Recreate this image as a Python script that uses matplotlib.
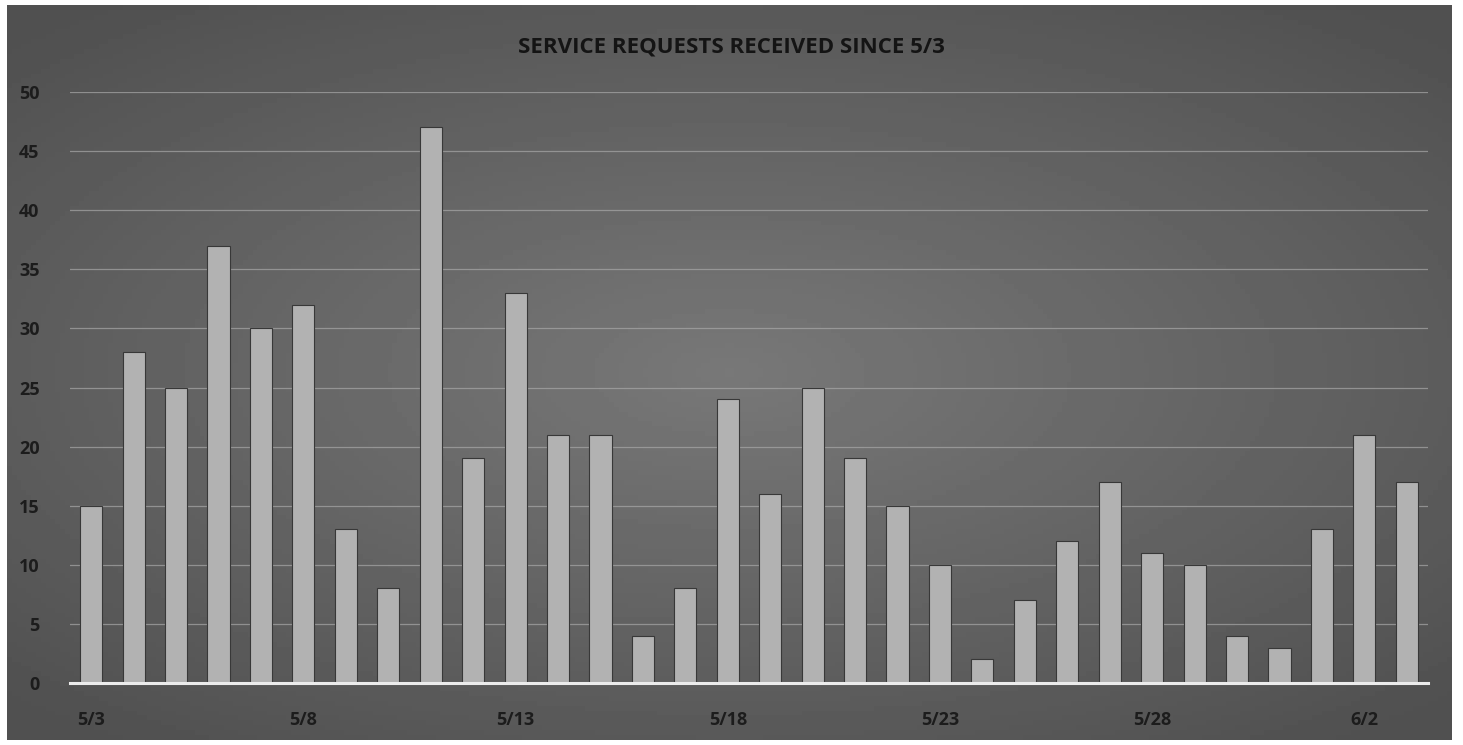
import numpy as np
import matplotlib
matplotlib.use("Agg")
from matplotlib import pyplot as plt

# daily service requests, 5/3 through 6/3
days = ["5/3", "5/4", "5/5", "5/6", "5/7", "5/8", "5/9", "5/10", "5/11", "5/12",
        "5/13", "5/14", "5/15", "5/16", "5/17", "5/18", "5/19", "5/20", "5/21", "5/22",
        "5/23", "5/24", "5/25", "5/26", "5/27", "5/28", "5/29", "5/30", "5/31", "6/1",
        "6/2", "6/3"]
requests = [15, 28, 25, 37, 30, 32, 13, 8, 47, 19,
            33, 21, 21, 4, 8, 24, 16, 25, 19, 15,
            10, 2, 7, 12, 17, 11, 10, 4, 3, 13,
            21, 17]
y_ticks = [0, 5, 10, 15, 20, 25, 30, 35, 40, 45, 50]

plt.rcParams["font.family"] = ["Open Sans", "DejaVu Sans"]

fig = plt.figure(figsize=(14.63, 7.45), dpi=100)
fig.patch.set_facecolor("white")

# gray scanned-looking panel with a soft radial gradient
bg = fig.add_axes([7 / 1463, 5 / 745, 1445 / 1463, 735 / 745])
gx, gy = np.meshgrid(np.linspace(-1, 1, 300), np.linspace(-1, 1, 150))
r = np.sqrt(gx ** 2 + (gy / 0.9) ** 2)
shade = 0.47 - 0.11 * np.clip(r, 0, 1.4)
bg.imshow(shade, cmap="gray", vmin=0, vmax=1, aspect="auto",
          extent=[0, 1, 0, 1])
bg.set_axis_off()

ax = fig.add_axes([70 / 1463, 1 - 683 / 745, 1358 / 1463, (683 - 92) / 745])
ax.patch.set_alpha(0)
x = np.arange(len(days))
ax.bar(x, requests, width=0.52, color="#b2b2b2", edgecolor="#383838",
       linewidth=0.8, zorder=3)
ax.set_xlim(-0.5, len(days) - 0.5)
ax.set_ylim(0, 50)
ax.set_yticks(y_ticks)
ax.grid(axis="y", color="#a8a8a8", linewidth=0.9, alpha=0.7, zorder=0)
for s in ["top", "right", "left"]:
    ax.spines[s].set_visible(False)
ax.spines["bottom"].set_color("#ececec")
ax.spines["bottom"].set_linewidth(2.2)
ax.spines["bottom"].set_zorder(4)
ax.set_xticks(x[::5])
ax.set_xticklabels(days[::5])
ax.tick_params(length=0, colors="#1c1c1c", labelsize=13)
ax.tick_params(axis="x", pad=20)
ax.tick_params(axis="y", pad=22)
for lab in ax.get_xticklabels() + ax.get_yticklabels():
    lab.set_fontweight("bold")

fig.text(0.5, 1 - 47 / 745, "SERVICE REQUESTS RECEIVED SINCE 5/3",
         ha="center", va="center", fontsize=16, fontweight="bold",
         color="#141414")

fig.savefig("out.png", dpi=100)
